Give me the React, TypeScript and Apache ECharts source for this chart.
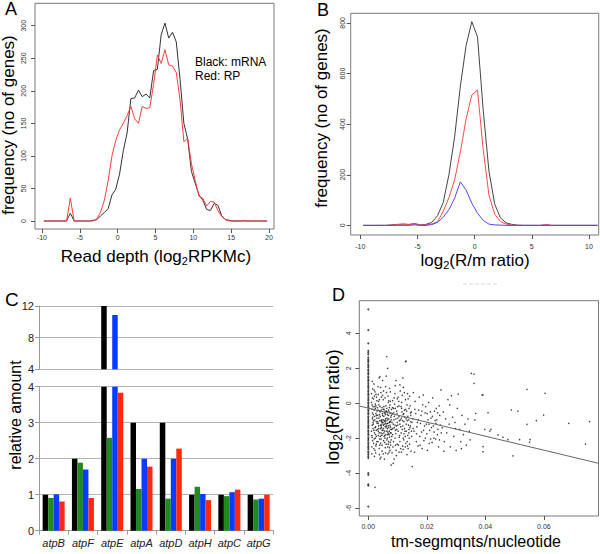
import { useEffect, useRef } from 'react';
import * as echarts from 'echarts';

// ---------- Panel A: read depth histogram ----------
const depthX = [-9.75,-9.25,-8.75,-8.25,-7.75,-7.25,-6.75,-6.25,-5.75,-5.25,-4.75,-4.25,-3.75,-3.25,-2.75,-2.25,-1.75,-1.25,-0.75,-0.25,0.25,0.75,1.25,1.75,2.25,2.75,3.25,3.75,4.25,4.75,5.25,5.75,6.25,6.75,7.25,7.75,8.25,8.75,9.25,9.75,10.25,10.75,11.25,11.75,12.25,12.75,13.25,13.75,14.25,14.75,15.25,15.75,16.25,16.75,17.25,17.75,18.25,18.75,19.25,19.75];
const mrnaFreq = [0,0,0,0,0,0,0,12,0,0,0,0,0,1,2,8,13,19,40,49,72,108,135,188,189,201,191,195,189,231,233,286,304,281,290,275,217,150,126,76,58,40,32,18,16,27,24,8,2,1,0,0,0,0,0,0,0,0,0,0];
const rpFreq = [0,0,0,0,0,0,0,35,0,0,0,0,0,0,3,14,32,62,100,124,140,150,162,176,157,150,176,173,174,210,255,242,263,240,238,228,186,122,127,88,62,38,35,23,30,29,16,7,2,0,0,0,0,1,0,0,0,0,0,0];
const aTicksX = [-10,-5,0,5,10,15,20];
const aTicksY = [0,50,100,150,200,250,300];

// ---------- Panel B: log2(R/m) histogram ----------
const ratioX = [-9.75,-9.25,-8.75,-8.25,-7.75,-7.25,-6.75,-6.25,-5.75,-5.25,-4.75,-4.25,-3.75,-3.25,-2.75,-2.25,-1.75,-1.25,-0.75,-0.25,0.25,0.75,1.25,1.75,2.25,2.75,3.25,3.75,4.25,4.75,5.25,5.75,6.25,6.75,7.25,7.75,8.25,8.75,9.25,9.75,10.25,10.75];
const ratioAll = [0,0,0,0,0,2,4,5,4,7,2,4,12,38,90,200,350,550,710,805,745,455,215,85,30,10,4,1,0,0,0,0,2,0,0,0,0,0,0,0,0,0];
const ratioRed = [0,0,0,0,0,1,3,5,3,5,1,2,6,14,55,110,180,290,420,515,535,300,120,45,15,5,2,0,0,0,0,0,3,0,0,0,0,0,0,0,0,0];
const ratioBlue = [0,0,0,0,0,0,0,0,0,2,0,0,3,12,32,62,108,172,140,88,48,20,5,2,1,0,0,0,0,0,0,0,0,0,0,0,0,0,0,0,0,0];
const bTicksX = [-10,-5,0,5,10];
const bTicksY = [0,200,400,600,800];

// ---------- Panel C: relative amounts ----------
const genes = ['atpB','atpF','atpE','atpA','atpD','atpH','atpC','atpG'];
const relBlack = [1.0,2.0,12.0,3.0,3.0,1.0,1.0,1.0];
const relGreen = [0.91,1.89,2.58,1.16,0.89,1.22,0.96,0.87];
const relBlue = [1.01,1.7,10.86,2.0,2.0,1.02,1.07,0.89];
const relRed = [0.81,0.91,3.83,1.78,2.28,0.85,1.14,1.0];

// ---------- Panel D: scatter ----------
const zeroColumnY = [5.37,4.19,3.43,3.0,2.9,2.8,2.62,2.51,2.43,2.35,2.22,2.14,2.05,1.93,1.85,1.72,1.66,1.54,1.45,1.33,1.27,1.15,1.04,0.95,0.86,0.74,0.65,0.53,0.46,0.35,0.24,0.16,0.05,-0.04,-0.15,-0.23,-0.36,-0.44,-0.55,-0.63,-0.75,-0.84,-0.96,-1.05,-1.14,-1.26,-1.35,-1.43,-1.56,-1.64,-1.75,-1.83,-1.96,-2.05,-2.13,-2.25,-2.34,-2.46,-2.55,-2.63,-2.76,-2.85,-2.94,-3.05,-3.15,-4.01,-4.1,-4.65,-4.72,-5.92];
const scatterPts = [
[0.0012,-0.35],[0.0015,0.82],[0.0011,-1.6],[0.0018,-2.3],[0.0014,-0.9],[0.0021,0.4],[0.0017,-1.2],[0.0023,-2.7],[0.0013,-0.1],[0.0026,-0.6],[0.0019,1.1],[0.0028,-1.9],[0.0012,-2.9],[0.0024,-0.3],[0.0016,-1.45],[0.0029,0.15],[0.0022,-0.75],[0.0011,0.55],[0.0027,-1.05],[0.002,-2.05],[0.0025,-1.35],[0.0014,-0.55],[0.003,-0.45],[0.0018,0.25],[0.0021,-1.7],[0.0026,-2.45],[0.0013,-1.25],[0.0029,-0.85],[0.0016,-0.2],[0.0023,0.65],[0.0019,-2.6],[0.0027,-1.55],[0.0012,-1.85],[0.0024,-0.05],[0.0017,-0.65],[0.003,-1.15],[0.0015,-2.15],[0.0022,-0.95],[0.0028,0.35],[0.002,-0.4],[0.0025,-1.8],[0.0011,0.05],[0.0026,-0.15],[0.0018,-1.0],[0.0029,-2.2],[0.0014,1.25],[0.0021,-3.05],[0.0023,-1.4],[0.0023,-4.82],
[0.0032,-0.7],[0.0035,-1.3],[0.0038,0.2],[0.0041,-1.9],[0.0044,-0.4],[0.0047,-2.4],[0.005,-1.1],[0.0053,-0.2],[0.0056,-1.6],[0.0059,-0.9],[0.0062,0.6],[0.0065,-2.0],[0.0068,-1.3],[0.0071,-0.5],[0.0074,-2.7],[0.0077,-0.8],[0.008,-1.5],
[0.0033,-2.2],[0.0036,-0.1],[0.0039,-1.0],[0.0042,0.9],[0.0045,-1.4],[0.0048,-0.6],[0.0051,-2.9],[0.0054,-1.2],[0.0057,0.3],[0.006,-1.8],[0.0063,-0.3],[0.0066,-2.5],[0.0069,-0.7],[0.0072,-1.1],[0.0075,0.1],[0.0078,-2.1],
[0.0031,-1.5],[0.0034,0.5],[0.0037,-2.6],[0.004,-0.5],[0.0043,-1.7],[0.0046,-0.95],[0.0049,0.45],[0.0052,-2.15],[0.0055,-0.55],[0.0058,-1.35],[0.0061,-2.35],[0.0064,-0.85],[0.0067,-1.65],[0.007,0.15],[0.0073,-1.95],[0.0076,-1.05],[0.0079,-0.35],
[0.0032,-1.05],[0.0035,-1.85],[0.0038,-0.65],[0.0041,-1.25],[0.0044,-2.05],[0.0047,-0.25],[0.005,-1.55],[0.0053,-0.75],[0.0056,-2.25],[0.0059,-1.15],[0.0062,-0.45],[0.0065,-1.45],[0.0068,0.05],[0.0071,-2.8],[0.0074,-1.25],[0.0077,-0.55],[0.008,-1.9],
[0.0033,0.95],[0.0036,-0.85],[0.0039,-2.05],[0.0042,-1.45],[0.0045,0.35],[0.0048,-1.75],[0.0051,-0.95],[0.0054,-1.9],[0.0057,-1.05],[0.006,-0.15],[0.0063,-1.6],[0.0066,-0.95],[0.0069,-2.2],[0.0072,-0.25],[0.0075,-1.7],[0.0078,-0.95],
[0.0034,-1.6],[0.004,-0.2],[0.0046,-1.2],[0.0052,-1.45],[0.0058,-0.65],[0.0064,-1.15],[0.007,-1.4],[0.0076,-2.4],[0.0043,-3.1],[0.0055,-3.2],[0.0067,-2.9],[0.0049,1.3],[0.0061,1.55],[0.0073,0.85],[0.0037,1.45],[0.0066,2.0],[0.0063,2.66],[0.004,1.52],[0.0057,-0.45],[0.0045,-1.05],[0.0069,-1.75],[0.0052,0.7],[0.004,-3.19],
[0.0082,-0.6],[0.0085,-1.2],[0.0088,0.3],[0.0091,-2.0],[0.0094,-0.9],[0.0097,-1.5],[0.01,-0.2],[0.0103,-2.4],[0.0106,-1.0],[0.0109,0.7],[0.0112,-1.7],[0.0115,-0.5],[0.0118,-1.3],[0.0121,-2.1],[0.0124,-0.8],[0.0127,0.2],[0.013,-1.6],[0.0133,-1.0],[0.0136,-2.6],[0.0139,-0.3],[0.0142,-1.4],[0.0145,-0.7],[0.0148,-1.9],
[0.0083,-1.8],[0.0086,-0.3],[0.0089,-1.4],[0.0092,1.0],[0.0095,-2.7],[0.0098,-0.6],[0.0101,-1.25],[0.0104,0.1],[0.0107,-1.85],[0.011,-0.95],[0.0113,-2.8],[0.0116,0.45],[0.0119,-0.65],[0.0122,-1.05],[0.0125,-1.6],[0.0128,-2.3],[0.0131,-0.45],[0.0134,0.55],[0.0137,-1.25],[0.014,-2.0],[0.0143,-0.15],[0.0146,-2.75],[0.0149,-1.1],
[0.0084,-2.5],[0.0087,-0.95],[0.009,-0.05],[0.0093,-1.55],[0.0096,-3.0],[0.0099,-1.1],[0.0102,0.35],[0.0105,-0.75],[0.0108,-2.2],[0.0111,-1.35],[0.0114,-0.3],[0.0117,-2.45],[0.012,0.9],[0.0123,-0.4],[0.0126,-1.9],[0.0129,-0.9],[0.0132,-2.95],[0.0135,-0.75],[0.0138,-1.7],[0.0141,0.4],[0.0144,-1.3],[0.0147,-0.5],
[0.0085,-3.44],[0.0078,-3.54],[0.015,-3.63],[0.0129,2.41],[0.0127,2.38],[0.0095,1.3],[0.0118,1.45],[0.0088,-3.2],
[0.0152,-0.9],[0.0156,-1.6],[0.016,0.1],[0.0164,-2.2],[0.0168,-1.1],[0.0172,-0.4],[0.0176,-1.9],[0.018,-0.7],[0.0184,-2.6],[0.0188,0.47],[0.0192,-1.3],[0.0196,-0.2],[0.02,-1.75],[0.0204,-0.95],[0.0208,-2.3],[0.0212,-0.5],[0.0216,-1.4],[0.022,0.3],[0.0224,-2.0],[0.0228,-1.0],[0.0232,-0.3],[0.0236,-1.8],[0.024,-2.5],[0.0244,-0.7],[0.0248,0.76],
[0.0154,0.6],[0.0158,-2.8],[0.0162,-0.6],[0.0166,-1.35],[0.017,-2.45],[0.0174,0.35],[0.0178,-1.15],[0.0182,-1.65],[0.0186,-0.1],[0.019,-2.15],[0.0194,-0.55],[0.0198,-1.2],[0.0202,-2.7],[0.0206,0.05],[0.021,-1.55],[0.0214,-0.85],[0.0218,-2.25],[0.0222,-1.3],[0.0226,-0.45],[0.023,-2.05],[0.0234,-0.95],[0.0238,-1.5],[0.0242,-0.15],[0.0246,-1.25],
[0.0252,-1.4],[0.0256,-0.5],[0.026,-2.2],[0.0264,-0.9],[0.0268,-1.7],[0.0272,0.2],[0.0276,-1.2],[0.028,-2.5],[0.0284,0.43],[0.0288,-0.8],[0.0292,-1.9],[0.0296,-1.1],[0.03,-2.7],[0.0304,-0.3],[0.0307,0.52],[0.0312,-1.5],[0.0316,-2.2],[0.032,-0.7],[0.0325,-1.8],[0.033,-1.2],[0.0335,-2.4],[0.034,-0.9],[0.0345,-1.6],[0.0348,-2.1],[0.0258,-2.75],[0.0278,-0.1],[0.0298,-1.45],[0.0318,-2.6],
[0.0352,1.71],[0.0361,1.67],[0.0361,1.14],[0.0389,0.47],[0.0392,0.47],[0.0364,-0.96],[0.0367,-0.58],[0.0542,0.79],[0.0604,0.57],[0.0489,-0.39],[0.0409,-0.54],[0.0599,-0.68],[0.0574,-1.0],[0.0542,-1.21],[0.0685,-1.15],[0.0756,-1.06],[0.0398,-1.5],[0.0415,-1.6],[0.0419,-1.5],[0.0443,-1.82],[0.046,-1.95],[0.0477,-2.08],[0.0517,-2.08],[0.0551,-2.23],[0.0553,-2.08],[0.0742,-2.34],[0.0392,-2.49],[0.0392,-2.78],[0.0494,-3.02],[0.0511,-0.45],
[0.0015,-0.8],[0.0019,-1.55],[0.0024,-2.0],[0.0028,-0.7],[0.0013,-1.95],[0.0031,-0.25],[0.0034,-1.15],[0.0037,-1.7],[0.0039,-0.45],[0.0042,-2.3],[0.0044,-1.0],[0.0047,-1.55],[0.0049,-0.7],[0.0052,-1.25],[0.0054,-0.35],[0.0056,-1.85],[0.0058,-2.55],[0.006,-1.0],[0.0062,-1.35],[0.0064,-0.5],[0.0066,-1.8],[0.0068,-2.35],[0.007,-0.9],[0.0072,-1.6],[0.0074,-0.1],[0.0076,-1.35],[0.0078,-1.7],[0.0081,-1.1],[0.0083,-0.25],[0.0086,-2.2],[0.0089,-0.75],[0.0091,-1.25],[0.0094,-1.75],[0.0097,-0.45],[0.0099,-2.35],[0.0102,-1.6],[0.0105,-0.15],[0.0108,-1.2],[0.0111,-2.6],[0.0113,-0.85],[0.0116,-1.5],[0.0119,-2.0],[0.0121,-0.6],[0.0124,-1.45],[0.0126,-2.5],[0.0129,-1.2],[0.0132,-0.1],[0.0135,-1.85],[0.0138,-0.95],[0.0141,-2.35],[0.0144,-0.55],[0.0147,-1.6],
[0.0016,-1.1],[0.0022,-0.2],[0.0027,-2.35],[0.0033,-0.4],[0.0036,-1.45],[0.0039,-2.4],[0.0041,-0.75],[0.0044,-1.3],[0.0046,-1.85],[0.0048,-1.1],[0.0051,-0.35],[0.0053,-1.7],[0.0055,-1.0],[0.0057,-2.0],[0.0059,-0.55],[0.0061,-1.25],[0.0063,-2.1],[0.0065,-0.65],[0.0067,-1.15],[0.0069,-0.4],[0.0071,-1.8],[0.0073,-1.05],[0.0075,-2.25],[0.0077,-1.5],[0.0079,-0.7],[0.0084,-1.45],[0.0087,-0.55],[0.0092,-0.3],[0.0096,-1.3],[0.0101,-0.85],[0.0106,-1.95],[0.0112,-0.2],[0.0117,-1.0],[0.0122,-1.75],[0.0128,-0.35],[0.0133,-2.2],[0.0139,-1.5],[0.0145,-1.05],[0.0153,-1.45],[0.0159,-0.35],[0.0165,-1.75],[0.0171,-0.95],[0.0177,-2.4],[0.0183,-0.45],[0.0189,-1.55],[0.0195,-2.0],[0.0201,-0.6],[0.0207,-1.2],[0.0213,-2.05],[0.0219,-0.75],[0.0225,-1.65],[0.0231,-1.15],[0.0237,-0.55],[0.0243,-2.1],[0.0249,-1.7],
[0.0014,0.3],[0.002,0.75],[0.0026,0.5],[0.0035,0.1],[0.0043,0.6],[0.0051,0.2],[0.0059,0.95],[0.0067,0.4],[0.0075,0.65],[0.0083,0.15],[0.0091,0.55],[0.0099,0.25],[0.0108,1.05],[0.0114,0.05],[0.0123,0.6],[0.0136,0.25],[0.0012,-2.5],[0.0025,-2.85],[0.0038,-2.95],[0.0047,-2.75],[0.0059,-2.85],[0.0072,-2.55],[0.0081,-2.85],[0.0093,-2.4],[0.0105,-2.8],[0.0119,-2.65],[0.0134,-2.45]
];
const regLine = [[-0.00307,-0.16],[0.07866,-3.44]];
const dTicksX = [0,0.02,0.04,0.06];
const dTicksY = [-6,-4,-2,0,2,4];

const FONT = '"Liberation Sans", Arial, Helvetica, sans-serif';
const BOX = '#7a7a7a';
const TICK = '#555';

function rAxisX(grid: number, min: number, max: number, ticks: number[], margin: number, fmt?: (v: number) => string) {
  return {
    type: 'value', gridIndex: grid, min, max,
    axisLine: { show: false, onZero: false }, splitLine: { show: false },
    axisTick: { show: true, customValues: ticks, length: 4, lineStyle: { color: TICK, width: 1 } },
    axisLabel: { customValues: ticks, fontSize: 7, color: '#333', margin, formatter: fmt },
  };
}
function rAxisY(grid: number, min: number, max: number, ticks: number[], margin: number) {
  return {
    type: 'value', gridIndex: grid, min, max,
    axisLine: { show: false, onZero: false }, splitLine: { show: false },
    axisTick: { show: true, customValues: ticks, length: 4, lineStyle: { color: TICK, width: 1 } },
    axisLabel: { customValues: ticks, fontSize: 7, color: '#333', margin, rotate: 90 },
  };
}
function cAxisY(grid: number, min: number, max: number, interval: number) {
  return {
    type: 'value', gridIndex: grid, min, max, interval,
    axisLine: { show: true, onZero: false, lineStyle: { color: '#9a9a9a', width: 1 } },
    axisTick: { show: true, length: 4, lineStyle: { color: '#9a9a9a' } },
    splitLine: { show: true, lineStyle: { color: '#b4b4b4', width: 1 } },
    axisLabel: { fontSize: 11, color: '#222', margin: 5 },
  };
}

const pairs = (xs: number[], ys: number[]) => xs.map((x, i) => [x, ys[i]]);

function txt(x: number, y: number, text: string, size: number, opts: any = {}) {
  return {
    type: 'text', x, y, rotation: opts.rotation || 0,
    style: {
      text, fill: '#000', fontSize: size, fontFamily: FONT,
      textAlign: opts.align || 'center', textVerticalAlign: 'middle',
      align: opts.align || 'center', verticalAlign: 'middle',
      rich: opts.rich,
    },
  };
}
const sub = (size: number, subSize: number, pad: number) => ({
  n: { fontSize: size, fontFamily: FONT, fill: '#000' },
  s: { fontSize: subSize, fontFamily: FONT, fill: '#000', padding: [pad, 0, 0, 0] },
});

export default function App() {
  const ref = useRef<HTMLDivElement>(null);
  useEffect(() => {
    document.body.style.margin = '0';
    const chart = echarts.init(ref.current!, null, { renderer: 'svg' });
    const colorsC = ['#000000', '#1f8a1f', '#0a3cff', '#ff2a0a'];
    const dataC = [relBlack, relGreen, relBlue, relRed];
    const barSeries: any[] = [];
    dataC.forEach((arr, k) => {
      barSeries.push({
        type: 'bar', xAxisIndex: 2, yAxisIndex: 2, barWidth: 5.5, barGap: '0%',
        itemStyle: { color: colorsC[k] },
        data: arr.map((v) => (v > 4 ? v : '-')),
      });
      barSeries.push({
        type: 'bar', xAxisIndex: 3, yAxisIndex: 3, barWidth: 5.5, barGap: '0%',
        itemStyle: { color: colorsC[k] },
        data: arr,
      });
    });

    chart.setOption({
      animation: false,
      textStyle: { fontFamily: FONT },
      grid: [
        { left: 35, top: 3.3, width: 239, height: 225.7, show: true, borderColor: BOX, borderWidth: 1, backgroundColor: 'transparent' },
        { left: 350.7, top: 13.3, width: 248, height: 221.7, show: true, borderColor: BOX, borderWidth: 1, backgroundColor: 'transparent' },
        { left: 39, top: 306, width: 234.3, height: 63.3 },
        { left: 39, top: 386.7, width: 234.3, height: 144 },
        { left: 359.3, top: 300.7, width: 239.2, height: 215.3, show: true, borderColor: BOX, borderWidth: 1, backgroundColor: 'transparent' },
      ],
      xAxis: [
        rAxisX(0, -10.92, 20.66, aTicksX, 5),
        rAxisX(1, -10.84, 10.85, bTicksX, 8),
        { type: 'category', gridIndex: 2, data: genes, show: false },
        {
          type: 'category', gridIndex: 3, data: genes,
          axisLine: { show: true, onZero: false, lineStyle: { color: '#9a9a9a' } },
          axisTick: { show: true, length: 4, lineStyle: { color: '#9a9a9a' } },
          axisLabel: { fontSize: 11, fontStyle: 'italic', color: '#222', margin: 7, interval: 0 },
        },
        rAxisX(4, -0.00307, 0.07866, dTicksX, 7, (v: number) => v.toFixed(2)),
      ],
      yAxis: [
        rAxisY(0, -12.3, 334.4, aTicksY, 8),
        rAxisY(1, -38, 838, bTicksY, 5),
        cAxisY(2, 4, 12, 4),
        cAxisY(3, 0, 4, 1),
        rAxisY(4, -6.46, 5.87, dTicksY, 7),
      ],
      series: [
        { type: 'line', xAxisIndex: 0, yAxisIndex: 0, data: pairs(depthX, mrnaFreq), symbol: 'none', lineStyle: { color: '#333', width: 1 } },
        { type: 'line', xAxisIndex: 0, yAxisIndex: 0, data: pairs(depthX, rpFreq), symbol: 'none', lineStyle: { color: '#ff3b3b', width: 1 } },
        { type: 'line', xAxisIndex: 1, yAxisIndex: 1, data: pairs(ratioX, ratioAll), symbol: 'none', lineStyle: { color: '#444', width: 1 } },
        { type: 'line', xAxisIndex: 1, yAxisIndex: 1, data: pairs(ratioX, ratioRed), symbol: 'none', lineStyle: { color: '#ff4a4a', width: 1 } },
        { type: 'line', xAxisIndex: 1, yAxisIndex: 1, data: pairs(ratioX, ratioBlue), symbol: 'none', lineStyle: { color: '#4a4aff', width: 1 } },
        ...barSeries,
        { type: 'scatter', xAxisIndex: 4, yAxisIndex: 4, data: zeroColumnY.map((y) => [0, y]), symbolSize: 2, itemStyle: { color: '#222' } },
        { type: 'scatter', xAxisIndex: 4, yAxisIndex: 4, data: scatterPts, symbolSize: 1.5, itemStyle: { color: '#111' } },
        { type: 'line', xAxisIndex: 4, yAxisIndex: 4, data: regLine, symbol: 'none', lineStyle: { color: '#666', width: 1 } },
      ],
      graphic: [
        txt(5, 9, 'A', 18, { align: 'left' }),
        txt(317, 10, 'B', 18, { align: 'left' }),
        txt(5, 299, 'C', 19, { align: 'left' }),
        txt(332, 295, 'D', 18, { align: 'left' }),
        txt(8, 125, 'frequency (no of genes)', 17, { rotation: Math.PI / 2 }),
        txt(156, 256, '{n|Read depth (log}{s|2}{n|RPKMc)}', 17, { rich: sub(17, 11, 10) }),
        txt(195, 62, 'Black: mRNA', 12, { align: 'left' }),
        txt(195, 76, 'Red: RP', 12, { align: 'left' }),
        txt(321.5, 118, 'frequency (no of genes)', 17, { rotation: Math.PI / 2 }),
        txt(475, 260, '{n|log}{s|2}{n|(R/m ratio)}', 17, { rich: sub(17, 11, 10) }),
        txt(15, 415, 'relative amount', 16, { rotation: Math.PI / 2 }),
        txt(332.5, 407, '{n|log}{s|2}{n|(R/m ratio)}', 18, { rotation: Math.PI / 2, rich: sub(18, 12, 10) }),
        txt(476, 541, 'tm-segmqnts/nucleotide', 16),
        { type: 'line', shape: { x1: 463, y1: 284, x2: 497, y2: 284 }, style: { stroke: '#d8d8d8', lineWidth: 1, lineDash: [4, 2] } },
      ],
    });
    return () => chart.dispose();
  }, []);
  return <div ref={ref} style={{ position: 'absolute', left: 0, top: 0, width: 600, height: 554 }} />;
}
